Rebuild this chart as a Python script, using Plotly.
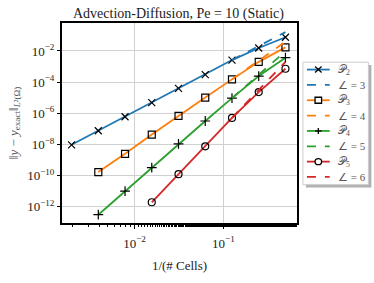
import plotly.graph_objects as go

# Mesh sizes h = 1/(# cells)
h_p2 = [1/512, 1/256, 1/128, 1/64, 1/32, 1/16, 1/8, 1/4, 1/2]
h_p3 = [1/256, 1/128, 1/64, 1/32, 1/16, 1/8, 1/4, 1/2]
h_p4 = [1/256, 1/128, 1/64, 1/32, 1/16, 1/8, 1/4, 1/2]
h_p5 = [1/64, 1/32, 1/16, 1/8, 1/4, 1/2]

err_p2 = [9.5e-9, 7.6e-8, 6.0e-7, 4.8e-6, 4.0e-5, 3.0e-4, 2.6e-3, 1.55e-2, 7.6e-2]
err_p3 = [1.7e-10, 2.5e-9, 4.3e-8, 6.9e-7, 1.02e-5, 1.5e-4, 2.0e-3, 1.7e-2]
err_p4 = [3.1e-13, 1.02e-11, 3.3e-10, 1.1e-8, 3.2e-7, 9.3e-6, 2.45e-4, 3.7e-3]
err_p5 = [1.95e-12, 1.23e-10, 7.6e-9, 5.0e-7, 2.3e-5, 7.2e-4]

# Reference slope lines (endpoints)
ref_h = [1/8, 1/2]
ref_3 = [2.6e-3, 1.62e-1]
ref_4 = [1.5e-4, 3.9e-2]
ref_5 = [9.3e-6, 9.5e-3]
ref_6 = [5.0e-7, 2.0e-3]

# Tick labels
x_tickvals = [0.01, 0.1]
x_ticktext = ["10<sup>−2</sup>", "10<sup>−1</sup>"]
y_tickvals = [1e-12, 1e-10, 1e-8, 1e-6, 1e-4, 1e-2]
y_ticktext = ["10<sup>−12</sup>", "10<sup>−10</sup>", "10<sup>−8</sup>",
              "10<sup>−6</sup>", "10<sup>−4</sup>", "10<sup>−2</sup>"]

series_names = ["𝒫<sub>2</sub>", "𝒫<sub>3</sub>", "𝒫<sub>4</sub>", "𝒫<sub>5</sub>"]
ref_names = ["∠ = 3", "∠ = 4", "∠ = 5", "∠ = 6"]
colors = ["#1f77b4", "#ff7f0e", "#2ca02c", "#d62728"]
symbols = ["x-thin", "square-open", "cross-thin", "circle-open"]
sizes = [7, 7, 7, 7]

hs = [h_p2, h_p3, h_p4, h_p5]
errs = [err_p2, err_p3, err_p4, err_p5]
refs = [ref_3, ref_4, ref_5, ref_6]

fig = go.Figure()
for i in range(4):
    fig.add_trace(go.Scatter(
        x=hs[i], y=errs[i], mode="lines+markers", name=series_names[i],
        line=dict(color=colors[i], width=1.8),
        marker=dict(symbol=symbols[i], size=sizes[i], color="black",
                    line=dict(color="black", width=1.2)),
    ))
    fig.add_trace(go.Scatter(
        x=ref_h, y=refs[i], mode="lines", name=ref_names[i],
        line=dict(color=colors[i], width=1.8, dash="dash"),
    ))

serif = "Liberation Serif"
L, R, T, B = 60, 77, 23, 41
W, H = 374, 283
pw, ph = W - L - R, H - T - B


def px(x):
    return (x - L) / pw


def py(y):
    return (H - B - y) / ph


# ---- hand-drawn legend (matplotlib style with shadow) ----
lx0, lx1, ly0, ly1 = 303, 369, 66, 200
fig.add_shape(type="rect", xref="paper", yref="paper",
              x0=px(lx0 + 3), x1=px(lx1 + 3), y0=py(ly1 + 3), y1=py(ly0 + 3),
              fillcolor="#b0b0b0", line=dict(width=0), layer="above")
fig.add_shape(type="rect", xref="paper", yref="paper",
              x0=px(lx0), x1=px(lx1), y0=py(ly1), y1=py(ly0),
              fillcolor="white", line=dict(color="#cccccc", width=1), layer="above")

labels = []
for i in range(4):
    labels.append((series_names[i], colors[i], "solid", symbols[i]))
    labels.append((ref_names[i], colors[i], "dash", None))

for k, (txt, col, dash, sym) in enumerate(labels):
    yc = 74 + 16.8 * k
    fig.add_shape(type="line", xref="paper", yref="paper",
                  x0=px(307), x1=px(330), y0=py(yc), y1=py(yc),
                  line=dict(color=col, width=1.8, dash="dash" if dash == "dash" else "solid"),
                  layer="above")
    mx = 318.5
    s = 3.3
    if sym == "x-thin":
        fig.add_shape(type="line", xref="paper", yref="paper",
                      x0=px(mx - s), x1=px(mx + s), y0=py(yc - s), y1=py(yc + s),
                      line=dict(color="black", width=1.3), layer="above")
        fig.add_shape(type="line", xref="paper", yref="paper",
                      x0=px(mx - s), x1=px(mx + s), y0=py(yc + s), y1=py(yc - s),
                      line=dict(color="black", width=1.3), layer="above")
    elif sym == "square-open":
        fig.add_shape(type="rect", xref="paper", yref="paper",
                      x0=px(mx - s), x1=px(mx + s), y0=py(yc + s), y1=py(yc - s),
                      fillcolor="white", line=dict(color="black", width=1.3), layer="above")
    elif sym == "cross-thin":
        fig.add_shape(type="line", xref="paper", yref="paper",
                      x0=px(mx - s), x1=px(mx + s), y0=py(yc), y1=py(yc),
                      line=dict(color="black", width=1.3), layer="above")
        fig.add_shape(type="line", xref="paper", yref="paper",
                      x0=px(mx), x1=px(mx), y0=py(yc + s), y1=py(yc - s),
                      line=dict(color="black", width=1.3), layer="above")
    elif sym == "circle-open":
        fig.add_shape(type="circle", xref="paper", yref="paper",
                      x0=px(mx - s), x1=px(mx + s), y0=py(yc + s), y1=py(yc - s),
                      fillcolor="white", line=dict(color="black", width=1.3), layer="above")
    fig.add_annotation(xref="paper", yref="paper", x=px(336), y=py(yc),
                       xanchor="left", yanchor="middle", showarrow=False,
                       text=txt, font=dict(family=serif, size=11, color="#555"))

fig.update_layout(
    width=W, height=H,
    margin=dict(l=L, r=R, t=T, b=B),
    paper_bgcolor="white", plot_bgcolor="white",
    font=dict(family=serif, size=12, color="#222"),
    title=dict(text="Advection-Diffusion, Pe = 10 (Static)",
               x=(L + pw / 2) / W, xanchor="center", y=1 - 13 / H, yanchor="middle",
               font=dict(family=serif, size=14, color="#222")),
    showlegend=False,
    xaxis=dict(type="log", range=[-2.817, -0.171],
               tickvals=x_tickvals, ticktext=x_ticktext,
               showgrid=True, gridcolor="#d0d0d0", gridwidth=1,
               ticks="outside", ticklen=4, tickcolor="black", ticklabelstandoff=3,
               minor=dict(ticks="outside", ticklen=2, tickcolor="black", showgrid=False),
               showline=True, linecolor="black", linewidth=2, mirror=True,
               title=dict(text="1/(# Cells)", font=dict(family=serif, size=13, color="#222"), standoff=11),
               tickfont=dict(family=serif, size=13, color="#222"), zeroline=False),
    yaxis=dict(type="log", range=[-13.04, -0.207],
               tickvals=y_tickvals, ticktext=y_ticktext,
               showgrid=True, gridcolor="#d0d0d0", gridwidth=1,
               ticks="outside", ticklen=3, tickcolor="black",
               showline=True, linecolor="black", linewidth=2, mirror=True,
               title=dict(text="‖<i>y</i> − <i>y</i><sub>exact</sub>‖<sub><i>L</i>²(Ω)</sub>",
                          font=dict(family=serif, size=13, color="#555"), standoff=6),
               tickfont=dict(family=serif, size=13, color="#222"), zeroline=False),
)

fig.write_html("out.html", config={"displayModeBar": False},
               post_script="document.body.style.margin='0px';")
